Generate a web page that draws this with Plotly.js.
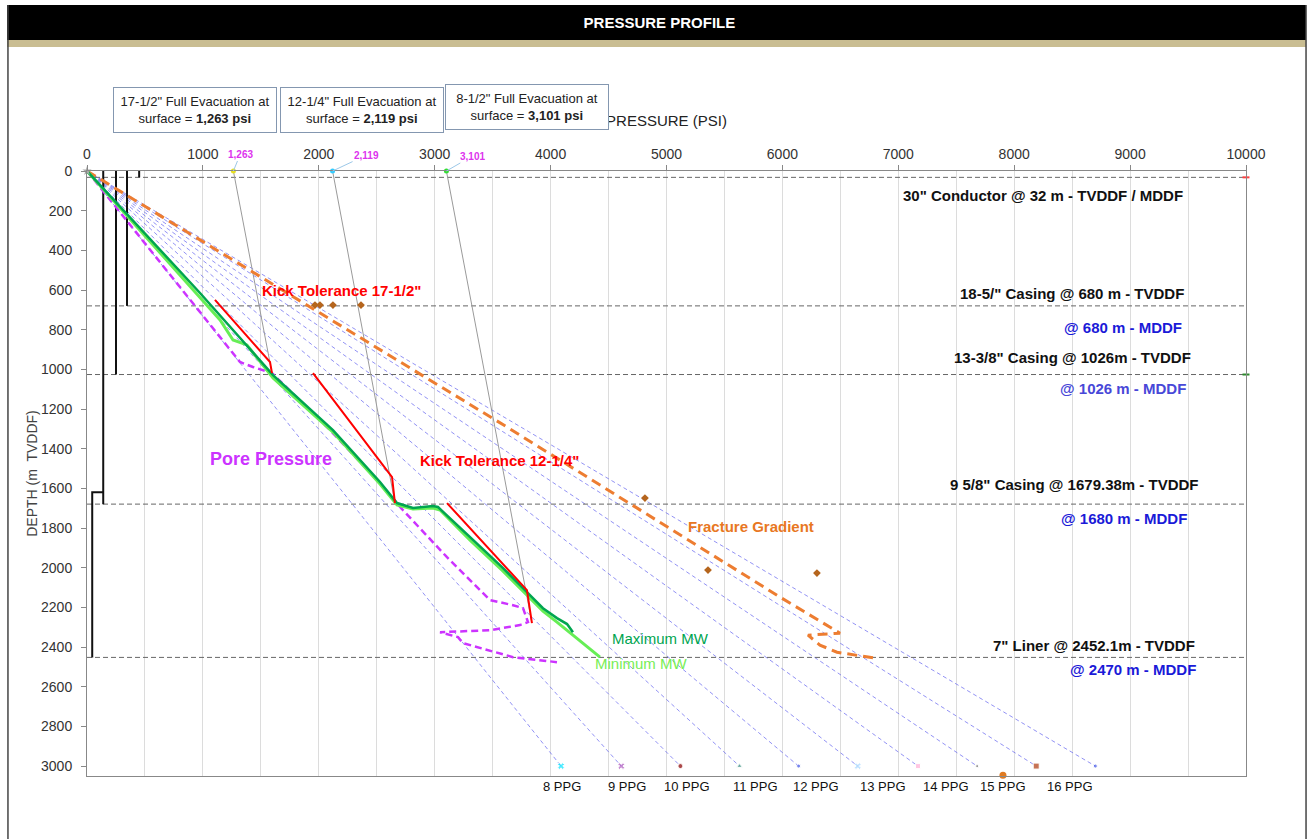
<!DOCTYPE html>
<html><head><meta charset="utf-8">
<script src="https://cdn.plot.ly/plotly-3.0.1.min.js"></script>
<style>html,body{margin:0;padding:0;background:#fff;}#chart{width:1311px;height:839px;}</style>
</head><body><div id="chart"></div>
<script>
// ---------- DATA ----------
const ppgLabels   = ['8 PPG','9 PPG','10 PPG','11 PPG','12 PPG','13 PPG','14 PPG','15 PPG','16 PPG','17 PPG'];
const ppgEndPsi   = [4090, 4610, 5120, 5630, 6140, 6650, 7170, 7680, 8190, 8700];
const ppgEndDepth = 3000;

const shoeNames  = ['30" Conductor','18-5/8" Casing','13-3/8" Casing','9 5/8" Casing','7" Liner'];
const shoeDepths = [32, 680, 1026, 1679.38, 2452.1];

const casingPsi    = [450, 345, 250, 140];
const casingBottom = [32, 680, 1026, 1680];
const linerPsi = 45, linerTop = 1620, linerBottom = 2452.1, hangerPsi = 140;

const evacSurfacePsi = [1263, 2119, 3101];
const evacShoePsi    = [1596, 2657, 3839];
const evacShoeDepth  = [1019, 1674, 2279];
const evacLabels     = ['1,263', '2,119', '3,101'];

const fracX = [0, 1777, 3624, 5979, 6497, 6221, 6324, 6471, 6799];
const fracY = [0, 635, 1291, 2148, 2330, 2340, 2390, 2426, 2456];
const lotX  = [1967, 2010, 2122, 2364, 4814, 5358, 6298];
const lotY  = [676, 676, 676, 676, 1649, 2012, 2027];
const fracEndX = [7903], fracEndY = [3046];

const poreX = [0, 1320, 1432, 1596, 2097, 2528, 2701, 3106, 3391, 3477, 3676, 3762, 3805, 3736, 3477, 3046, 3201, 3244, 3676, 4055];
const poreY = [0, 963, 988, 1019, 1306, 1573, 1694, 1947, 2113, 2163, 2189, 2204, 2274, 2289, 2315, 2325, 2350, 2380, 2451, 2476];

const maxMwX = [0, 975, 1605, 2122, 2528, 2675, 2813, 2985, 3028, 3305, 3581, 3796, 3934, 4055, 4142, 4193];
const maxMwY = [0, 615, 1029, 1306, 1568, 1674, 1699, 1689, 1694, 1846, 1997, 2123, 2204, 2254, 2284, 2325];
const minMwX = [0, 1148, 1260, 1380, 1605, 2122, 2528, 2675, 2813, 2985, 3046, 3305, 3581, 3796, 3934, 4055, 4426];
const minMwY = [0, 751, 852, 877, 1044, 1316, 1578, 1684, 1704, 1699, 1709, 1861, 2012, 2138, 2219, 2274, 2451];

const kt1750X = [1104, 1579, 1596];
const kt1750Y = [650, 963, 1019];
const kt1225X = [1950, 2528, 2632, 2657];
const kt1225Y = [1019, 1467, 1543, 1674];
const kt850X  = [3106, 3796, 3839];
const kt850Y  = [1674, 2113, 2279];

// ---------- STYLE ----------
const FONT = 'Liberation Sans, Arial, sans-serif';
const ppgMarkerStyle = [
  {symbol:'x', color:'#00e5ff', size:6},
  {symbol:'x', color:'#b05cc0', size:6},
  {symbol:'circle', color:'#8b0000', size:5},
  {symbol:'triangle-up', color:'#2e8b7a', size:5},
  {symbol:'circle', color:'#4a5ee8', size:4},
  {symbol:'x', color:'#a8d8ff', size:6},
  {symbol:'square', color:'#ffb0d8', size:5},
  {symbol:'circle', color:'#666666', size:3},
  {symbol:'square', color:'#b03a10', size:6},
  {symbol:'circle', color:'#4a5ee8', size:4}
];
const evacColors = ['#e8e020', '#33ccff', '#33dd33'];

const traces = [];
// PPG hydrostatic lines
ppgEndPsi.forEach((p, i) => {
  traces.push({x:[0, p], y:[0, ppgEndDepth], mode:'lines', hoverinfo:'skip',
    line:{color:'rgba(100,100,240,0.7)', width:1, dash:'4px,3px'}});
});
traces.push({x:ppgEndPsi, y:ppgEndPsi.map(() => ppgEndDepth), mode:'markers', text:ppgLabels,
  cliponaxis:false,
  marker:{symbol:ppgMarkerStyle.map(s=>s.symbol), color:ppgMarkerStyle.map(s=>s.color), size:ppgMarkerStyle.map(s=>s.size)}});

// Casing shoe depth lines
const shoeX = [], shoeY = [];
shoeDepths.forEach(d => { shoeX.push(0, 10000, null); shoeY.push(d, d, null); });
traces.push({x:shoeX, y:shoeY, mode:'lines', hoverinfo:'skip', line:{color:'#666', width:1, dash:'5px,3px'}});
traces.push({x:[10000, 10000], y:[shoeDepths[0], shoeDepths[2]], mode:'markers', cliponaxis:false,
  marker:{symbol:'line-ew', size:5, line:{width:2, color:['#ff4040','#2e8b2e']}}});

// Casing strings
const csgX = [], csgY = [];
casingPsi.forEach((p, i) => { csgX.push(p, p, null); csgY.push(0, casingBottom[i], null); });
csgX.push(hangerPsi, linerPsi, linerPsi, null); csgY.push(linerTop, linerTop, linerBottom, null);
traces.push({x:csgX, y:csgY, mode:'lines', hoverinfo:'skip', line:{color:'#111', width:2}});

// Full evacuation gas lines
evacSurfacePsi.forEach((p, i) => {
  traces.push({x:[p, evacShoePsi[i]], y:[0, evacShoeDepth[i]], mode:'lines', hoverinfo:'skip',
    line:{color:'#9a9a9a', width:1}});
});
traces.push({x:evacSurfacePsi, y:evacSurfacePsi.map(()=>0), mode:'markers', cliponaxis:false,
  marker:{color:evacColors, size:5}});

// Fracture gradient
traces.push({x:fracX, y:fracY, mode:'lines', hoverinfo:'skip',
  line:{color:'#ed7d31', width:3, dash:'10px,6px'}});
traces.push({x:lotX, y:lotY, mode:'markers', marker:{symbol:'diamond', color:'#b5651d', size:6}});
traces.push({x:fracEndX, y:fracEndY, mode:'markers', cliponaxis:false, marker:{color:'#e07a20', size:7}});

// Pore pressure
traces.push({x:poreX, y:poreY, mode:'lines', line:{color:'#cc33ff', width:2.5, dash:'7px,4px'}});

// Mud weights
traces.push({x:minMwX, y:minMwY, mode:'lines', line:{color:'#66ee55', width:3}});
traces.push({x:maxMwX, y:maxMwY, mode:'lines', line:{color:'#00a550', width:2.5}});

// Kick tolerance
[[kt1750X, kt1750Y], [kt1225X, kt1225Y], [kt850X, kt850Y]].forEach(([x, y]) => {
  traces.push({x:x, y:y, mode:'lines', line:{color:'#ff0000', width:2}});
});

// origin marker
traces.push({x:[0], y:[0], mode:'markers', cliponaxis:false, marker:{symbol:'star', color:'#aaa', size:7}});

// ---------- ANNOTATIONS ----------
const annotations = [];
function txt(text, x, y, o) {
  annotations.push(Object.assign({text:text, x:x, y:y, xref:'x', yref:'y', showarrow:false,
    yanchor:'middle', font:{family:FONT, size:15, color:'#111'}}, o || {}));
}
const bold = (s) => '<b>' + s + '</b>';
txt(bold('30" Conductor @ 32 m - TVDDF / MDDF'), 9474, 121, {xanchor:'right'});
txt(bold('18-5/" Casing @ 680 m - TVDDF'), 9482, 620, {xanchor:'right'});
txt(bold('@ 680 m - MDDF'), 9465, 787, {xanchor:'right', font:{family:FONT, size:15, color:'#1a1ad8'}});
txt(bold('13-3/8" Casing @ 1026m - TVDDF'), 9543, 938, {xanchor:'right'});
txt(bold('@ 1026 m - MDDF'), 9500, 1094, {xanchor:'right', font:{family:FONT, size:15, color:'#4848d8'}});
txt(bold('9 5/8" Casing @ 1679.38m - TVDDF'), 9612, 1578, {xanchor:'right'});
txt(bold('@ 1680 m - MDDF'), 9508, 1750, {xanchor:'right', font:{family:FONT, size:15, color:'#1a1ad8'}});
txt(bold('7" Liner @ 2452.1m - TVDDF'), 9577, 2390, {xanchor:'right'});
txt(bold('@ 2470 m - MDDF'), 9586, 2511, {xanchor:'right', font:{family:FONT, size:15, color:'#1a1ad8'}});

// curve labels
txt(bold('Kick Tolerance 17-1/2"'), 2200, 600, {xanchor:'center', font:{family:FONT, size:15, color:'#ff0000'}});
txt(bold('Kick Tolerance 12-1/4"'), 3563, 1457, {xanchor:'center', font:{family:FONT, size:15, color:'#ff0000'}});
txt(bold('Pore Pressure'), 1588, 1452, {xanchor:'center', font:{family:FONT, size:18, color:'#cc33ff'}});
txt(bold('Fracture Gradient'), 5729, 1790, {xanchor:'center', font:{family:FONT, size:15, color:'#e87722'}});
txt('Maximum MW', 4944, 2355, {xanchor:'center', font:{family:FONT, size:15, color:'#00a550'}});
txt('Minimum MW', 4780, 2481, {xanchor:'center', font:{family:FONT, size:15, color:'#77ee55'}});

// PPG labels under the plot
const ppgLabelX = [4098, 4659, 5177, 5764, 6290, 6868, 7412, 7903, 8481];
ppgLabelX.forEach((x, i) => {
  annotations.push({text:ppgLabels[i], x:x, y:-0.018, xref:'x', yref:'paper', showarrow:false,
    xanchor:'center', yanchor:'middle', font:{family:FONT, size:13, color:'#111'}});
});

// evacuation data labels
const evacOff = [[7, -17], [34, -16], [26, -15]];
evacSurfacePsi.forEach((p, i) => {
  annotations.push({text:bold(evacLabels[i]), x:p, y:0, xref:'x', yref:'y', showarrow:true,
    arrowhead:0, arrowwidth:1, arrowcolor:'#9cc8e8', ax:evacOff[i][0], ay:evacOff[i][1],
    font:{family:FONT, size:10, color:'#dd33ee'}});
});

// Evacuation info boxes
const boxText = [
  '17-1/2" Full Evacuation at<br>surface = <b>1,263 psi</b>',
  '12-1/4" Full Evacuation at<br>surface = <b>2,119 psi</b>',
  '8-1/2" Full Evacuation at<br>surface = <b>3,101 psi</b>'
];
const boxPos = [[0.0932, 1.1008], [0.2373, 1.1008], [0.3796, 1.1058]];
boxText.forEach((t, i) => {
  annotations.push({text:t, x:boxPos[i][0], y:boxPos[i][1], xref:'paper', yref:'paper', showarrow:false,
    xanchor:'center', yanchor:'middle',
    width:158, height:40, borderpad:2, bordercolor:'#8497b0', borderwidth:1, bgcolor:'#fff',
    align:'center', font:{family:FONT, size:13, color:'#222'}});
});

// ---------- LAYOUT ----------
const layout = {
  width:1311, height:839,
  margin:{l:87, r:65, t:171, b:63},
  paper_bgcolor:'#ffffff', plot_bgcolor:'#ffffff',
  showlegend:false,
  title:{text:'<b>PRESSURE PROFILE</b>', x:0.503, xanchor:'center', y:1 - 23/839, yref:'container', yanchor:'middle',
    font:{family:'Liberation Sans Narrow, Liberation Sans, Arial, sans-serif', size:15, color:'#ffffff'}},
  xaxis:{side:'top', range:[0, 10000], dtick:1000, tick0:0, autorange:false, tickformat:'d',
    showgrid:true, gridcolor:'#dcdcdc', gridwidth:1,
    minor:{dtick:500, showgrid:true, gridcolor:'#dcdcdc', ticks:''},
    showline:true, linecolor:'#888', linewidth:1, mirror:true,
    ticks:'outside', ticklen:5, tickcolor:'#888', zeroline:false,
    tickfont:{family:FONT, size:14, color:'#333'},
    title:{text:'PRESSURE (PSI)', standoff:16, font:{family:FONT, size:15, color:'#222'}}},
  yaxis:{range:[3050, 0], autorange:false, dtick:200, tick0:0, tickformat:'d',
    showgrid:false, showline:true, linecolor:'#888', linewidth:1, mirror:true,
    ticks:'outside', ticklen:5, tickcolor:'#888', zeroline:false, ticklabelstandoff:6,
    tickfont:{family:FONT, size:14, color:'#333'},
    title:{text:'DEPTH (m  TVDDF)', standoff:0, font:{family:FONT, size:14, color:'#444'}}},
  shapes:[
    {type:'rect', xref:'paper', yref:'paper', x0:-0.069, x1:1.0518, y0:1.2165, y1:1.2744,
      fillcolor:'#000', line:{width:0}, layer:'below'},
    {type:'rect', xref:'paper', yref:'paper', x0:-0.069, x1:1.0518, y0:1.205, y1:1.2165,
      fillcolor:'#c9bd92', line:{width:0}, layer:'below'},
    {type:'line', xref:'paper', yref:'paper', x0:-0.0682, x1:-0.0682, y0:-0.11, y1:1.2744,
      line:{color:'#444', width:1.5}, layer:'below'},
    {type:'line', xref:'paper', yref:'paper', x0:1.0518, x1:1.0518, y0:-0.11, y1:1.2744,
      line:{color:'#444', width:1.5}, layer:'below'}
  ],
  annotations:annotations,
  hovermode:false
};

Plotly.newPlot('chart', traces, layout, {staticPlot:true, displayModeBar:false});
</script>
</body></html>
